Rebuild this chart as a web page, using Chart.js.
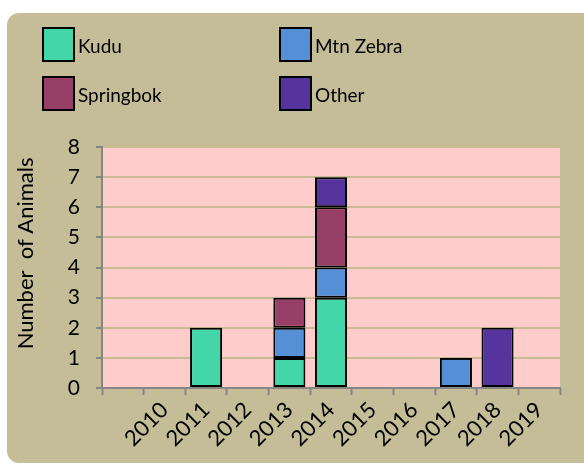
<!DOCTYPE html>
<html>
<head>
<meta charset="utf-8">
<script src="https://cdn.jsdelivr.net/npm/chart.js@4/dist/chart.umd.min.js"></script>
<style>
  html, body { margin: 0; padding: 0; background: #ffffff; }
  #wrap { width: 584px; height: 466px; }
</style>
</head>
<body>
<div id="wrap"><canvas id="animalsChart" width="584" height="466"></canvas></div>
<script>
// first slot is an empty category in the original sheet
const years = ['', '2010', '2011', '2012', '2013', '2014', '2015', '2016', '2017', '2018', '2019'];
const kudu      = [0, 0, 2, 0, 1, 3, 0, 0, 0, 0, 0];
const mtnZebra  = [0, 0, 0, 0, 1, 1, 0, 0, 1, 0, 0];
const springbok = [0, 0, 0, 0, 1, 2, 0, 0, 0, 0, 0];
const other     = [0, 0, 0, 0, 0, 1, 0, 0, 0, 2, 0];
const yTicks = [0, 1, 2, 3, 4, 5, 6, 7, 8];

const FONT = 'Lato, "Open Sans", sans-serif';

function makeSet(label, values, color) {
    return {
        label: label,
        data: values.map(v => v === 0 ? null : v),
        backgroundColor: color,
        borderColor: '#000000',
        borderWidth: 2,
        borderSkipped: false,
        barPercentage: 0.77,
        categoryPercentage: 1.0
    };
}

const panelPlugin = {
    id: 'panel',
    beforeDraw(chart) {
        const ctx = chart.ctx;
        const a = chart.chartArea;
        ctx.save();
        ctx.fillStyle = '#ffffff';
        ctx.fillRect(0, 0, chart.width, chart.height);
        ctx.fillStyle = '#c5bd98';
        ctx.beginPath();
        ctx.roundRect(7, 13, chart.width + 20, chart.height - 16, 12);
        ctx.fill();
        ctx.fillStyle = '#ffcccc';
        ctx.fillRect(a.left, a.top, a.right - a.left, a.bottom - a.top);
        ctx.restore();
    },
    afterDraw(chart) {
        // two column legend like the spreadsheet one
        const ctx = chart.ctx;
        const spots = [[43, 28], [280, 28], [43, 77], [280, 77]];
        ctx.save();
        ctx.font = '19px ' + FONT;
        ctx.textBaseline = 'middle';
        chart.data.datasets.forEach((ds, i) => {
            const [x, y] = spots[i];
            ctx.fillStyle = ds.backgroundColor;
            ctx.fillRect(x, y, 31, 33);
            ctx.strokeStyle = '#000000';
            ctx.lineWidth = 2;
            ctx.strokeRect(x, y, 31, 33);
            ctx.fillStyle = '#000000';
            ctx.fillText(ds.label, x + 35, y + 19);
        });
        ctx.restore();
    }
};

const ctx = document.getElementById('animalsChart').getContext('2d');
new Chart(ctx, {
    type: 'bar',
    data: {
        labels: years,
        datasets: [
            makeSet('Kudu', kudu, '#43d6a8'),
            makeSet('Mtn Zebra', mtnZebra, '#5590d6'),
            makeSet('Springbok', springbok, '#973f66'),
            makeSet('Other', other, '#55359d')
        ]
    },
    options: {
        responsive: false,
        animation: false,
        layout: { padding: { top: 147, right: 24, left: 0, bottom: 0 } },
        plugins: {
            legend: { display: false },
            tooltip: { enabled: false }
        },
        scales: {
            x: {
                stacked: true,
                offset: true,
                afterFit: s => { s.height = 78; },
                grid: {
                    offset: true,
                    drawOnChartArea: false,
                    drawTicks: true,
                    tickLength: 7,
                    tickColor: '#868686',
                    tickWidth: 2
                },
                border: { color: '#868686', width: 2 },
                ticks: {
                    minRotation: 45,
                    maxRotation: 45,
                    autoSkip: false,
                    padding: 2,
                    color: '#000000',
                    font: { family: FONT, size: 22 }
                }
            },
            y: {
                stacked: true,
                min: 0,
                max: 8,
                afterFit: s => { s.width = 102; },
                afterBuildTicks: s => { s.ticks = yTicks.map(v => ({ value: v })); },
                grid: {
                    color: '#c7ba95',
                    lineWidth: 2,
                    tickColor: '#868686',
                    tickLength: 6,
                    tickWidth: 2
                },
                border: { color: '#868686', width: 2 },
                ticks: {
                    padding: 16,
                    color: '#000000',
                    font: { family: FONT, size: 21 }
                },
                title: {
                    display: true,
                    // leading spaces nudge the title up a little, as in the original
                    text: '     Number  of Animals',
                    color: '#000000',
                    font: { family: FONT, size: 22 },
                    padding: { top: 13, bottom: 0 }
                }
            }
        }
    },
    plugins: [panelPlugin]
});
</script>
</body>
</html>
